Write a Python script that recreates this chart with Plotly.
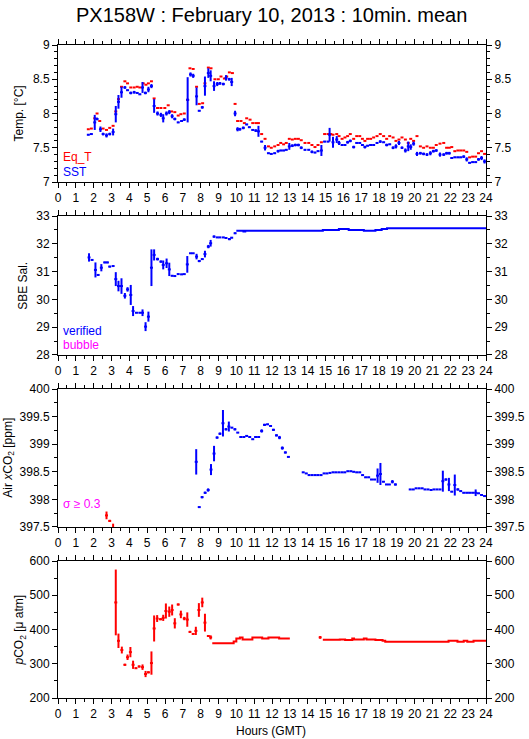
import plotly.graph_objects as go

# ---------------- data (hours GMT, 10-min means) ----------------
eqt_t = [1.70, 1.87, 2.06, 2.19, 2.34, 2.53, 2.72, 2.90, 3.09, 3.24,
         3.39, 3.56, 3.75, 3.90, 4.08, 4.27, 4.44, 4.59, 4.78, 4.93,
         5.07, 5.24, 5.39, 5.58, 5.77, 5.99, 6.18, 6.37, 6.55, 6.74,
         6.89, 7.08, 7.27, 7.40, 7.58, 7.77, 7.92, 8.11, 8.24, 8.43,
         8.58, 8.80, 8.99, 9.14, 9.33, 9.46, 9.61, 9.78, 9.93, 10.07,
         10.26, 10.45, 10.58, 10.77, 10.92, 11.10, 11.24, 11.42, 11.61, 11.80,
         11.96, 12.15, 12.34, 12.49, 12.65, 12.80, 12.97, 13.14, 13.31, 13.48,
         13.64, 13.85, 14.06, 14.24, 14.41, 14.58, 14.77, 14.95, 15.14, 15.30,
         15.42, 15.63, 15.76, 15.93, 16.09, 16.24, 16.39, 16.58, 16.75, 16.92,
         17.07, 17.21, 17.36, 17.53, 17.70, 17.89, 18.07, 18.26, 18.43, 18.60,
         18.79, 18.95, 19.12, 19.29, 19.48, 19.64, 19.78, 19.94, 20.13, 20.32,
         20.50, 20.69, 20.88, 21.05, 21.21, 21.42, 21.63, 21.79, 21.94, 22.08,
         22.25, 22.42, 22.58, 22.75, 22.92, 23.08, 23.25, 23.42, 23.58, 23.75, 23.92]
eqt_v = [7.77, 7.78, 7.93, 8.00, 7.89, 7.78, 7.76, 7.79, 7.82, 8.03,
         8.21, 8.39, 8.47, 8.44, 8.38, 8.38, 8.39, 8.38, 8.44, 8.42,
         8.44, 8.47, 8.22, 8.08, 8.08, 8.08, 8.12, 8.03, 8.02, 7.97,
         7.99, 8.00, 8.20, 8.66, 8.65, 8.39, 8.14, 8.15, 8.44, 8.67,
         8.66, 8.50, 8.50, 8.54, 8.51, 8.54, 8.60, 8.59, 8.14, 7.89,
         7.89, 7.86, 7.93, 7.91, 7.86, 7.86, 7.86, 7.70, 7.63, 7.52,
         7.50, 7.52, 7.54, 7.57, 7.55, 7.57, 7.63, 7.62, 7.63, 7.63,
         7.61, 7.57, 7.57, 7.54, 7.51, 7.54, 7.58, 7.70, 7.70, 7.70,
         7.69, 7.70, 7.67, 7.63, 7.65, 7.67, 7.70, 7.63, 7.67, 7.67,
         7.63, 7.60, 7.63, 7.63, 7.65, 7.67, 7.70, 7.67, 7.63, 7.67,
         7.65, 7.60, 7.62, 7.65, 7.62, 7.57, 7.63, 7.60, 7.67, 7.52,
         7.50, 7.52, 7.50, 7.50, 7.54, 7.56, 7.57, 7.50, 7.50, 7.51,
         7.45, 7.46, 7.46, 7.46, 7.44, 7.36, 7.37, 7.37, 7.42, 7.45, 7.41]

sst_t = [1.70, 1.87, 2.06, 2.19, 2.38, 2.53, 2.72, 2.90, 3.09, 3.24,
         3.39, 3.56, 3.75, 3.90, 4.08, 4.27, 4.44, 4.59, 4.74, 4.90,
         5.07, 5.24, 5.39, 5.58, 5.77, 5.90, 6.08, 6.24, 6.40, 6.55,
         6.74, 6.93, 7.08, 7.27, 7.43, 7.58, 7.77, 7.92, 8.09, 8.24,
         8.43, 8.56, 8.75, 8.93, 9.08, 9.27, 9.42, 9.60, 9.74, 9.93,
         10.07, 10.20, 10.39, 10.58, 10.73, 10.92, 11.09, 11.24, 11.42, 11.61, 11.80,
         11.96, 12.15, 12.34, 12.49, 12.65, 12.80, 12.97, 13.14, 13.31, 13.48,
         13.64, 13.85, 14.06, 14.24, 14.41, 14.58, 14.77, 14.95, 15.14, 15.23,
         15.42, 15.63, 15.76, 15.93, 16.09, 16.24, 16.39, 16.58, 16.75, 16.92,
         17.07, 17.21, 17.36, 17.53, 17.70, 17.89, 18.07, 18.26, 18.43, 18.60,
         18.79, 18.95, 19.12, 19.29, 19.48, 19.64, 19.78, 19.94, 20.13, 20.32,
         20.50, 20.69, 20.88, 21.05, 21.21, 21.42, 21.63, 21.79, 21.94, 22.08,
         22.25, 22.42, 22.58, 22.75, 22.92, 23.08, 23.25, 23.42, 23.58, 23.75, 23.92]
sst_v = [7.69, 7.70, 7.87, 7.92, 7.77, 7.70, 7.68, 7.70, 7.73, 7.99,
         8.17, 8.31, 8.38, 8.34, 8.30, 8.31, 8.30, 8.28, 8.38, 8.30,
         8.35, 8.40, 8.11, 8.00, 7.98, 7.93, 8.00, 8.02, 7.96, 7.92,
         7.87, 7.89, 7.91, 8.20, 8.57, 8.55, 8.25, 8.04, 8.09, 8.40,
         8.59, 8.55, 8.40, 8.43, 8.44, 8.43, 8.52, 8.50, 8.46, 8.00,
         7.77, 7.77, 7.79, 7.84, 7.80, 7.76, 7.75, 7.74, 7.59, 7.50, 7.42,
         7.41, 7.42, 7.45, 7.46, 7.46, 7.47, 7.52, 7.53, 7.54, 7.54,
         7.50, 7.47, 7.47, 7.44, 7.43, 7.45, 7.46, 7.59, 7.59, 7.69,
         7.58, 7.62, 7.57, 7.54, 7.54, 7.58, 7.60, 7.51, 7.57, 7.57,
         7.54, 7.51, 7.53, 7.54, 7.54, 7.57, 7.59, 7.58, 7.54, 7.55,
         7.50, 7.52, 7.57, 7.50, 7.46, 7.52, 7.51, 7.56, 7.41, 7.42,
         7.41, 7.40, 7.42, 7.45, 7.46, 7.40, 7.40, 7.42, 7.42, 7.35,
         7.36, 7.36, 7.36, 7.37, 7.33, 7.28, 7.29, 7.29, 7.33, 7.35, 7.30]
sst_sd = [0.01, 0.01, 0.11, 0.02, 0.04, 0.02, 0.03, 0.02, 0.05, 0.12,
          0.10, 0.08, 0.02, 0.01, 0.02, 0.02, 0.01, 0.01, 0.08, 0.02,
          0.04, 0.03, 0.10, 0.03, 0.03, 0.06, 0.03, 0.03, 0.03, 0.02,
          0.01, 0.01, 0.02, 0.33, 0.03, 0.03, 0.13, 0.01, 0.02, 0.14,
          0.07, 0.08, 0.07, 0.03, 0.02, 0.02, 0.04, 0.02, 0.06, 0.04,
          0.03, 0.02, 0.02, 0.01, 0.01, 0.01, 0.02, 0.08, 0.01, 0.04, 0.01,
          0.01, 0.01, 0.02, 0.01, 0.01, 0.01, 0.05, 0.02, 0.02, 0.02,
          0.02, 0.01, 0.01, 0.02, 0.01, 0.01, 0.08, 0.01, 0.01, 0.10,
          0.08, 0.05, 0.03, 0.01, 0.01, 0.02, 0.02, 0.02, 0.01, 0.01,
          0.01, 0.02, 0.01, 0.01, 0.01, 0.01, 0.02, 0.01, 0.02, 0.01,
          0.02, 0.03, 0.03, 0.02, 0.03, 0.07, 0.04, 0.03, 0.03, 0.02,
          0.02, 0.02, 0.03, 0.02, 0.02, 0.03, 0.02, 0.02, 0.02, 0.01,
          0.01, 0.01, 0.01, 0.02, 0.03, 0.01, 0.01, 0.01, 0.02, 0.03, 0.03]

sal_t = [1.74, 1.91, 2.10, 2.25, 2.43, 2.62, 2.77, 2.90, 3.09, 3.24,
         3.39, 3.56, 3.75, 3.90, 4.08, 4.21, 4.40, 4.59, 4.74, 4.91,
         5.07, 5.24, 5.39, 5.58, 5.77, 5.90, 6.09, 6.24, 6.40, 6.55,
         6.74, 6.93, 7.08, 7.25, 7.43, 7.58, 7.77, 7.92, 8.09, 8.24,
         8.43, 8.56, 8.75, 8.93, 9.08, 9.27, 9.42, 9.61, 9.74, 9.93]
sal_v = [31.51, 31.42, 31.06, 30.88, 31.14, 31.33, 31.33, 31.18, 31.20, 30.73,
         30.48, 30.48, 30.13, 30.36, 30.16, 29.58, 29.52, 29.52, 29.52, 29.02,
         29.38, 31.14, 31.60, 31.45, 31.36, 31.24, 31.30, 31.08, 30.85, 30.84,
         30.91, 30.90, 30.91, 31.26, 31.66, 31.66, 31.54, 31.38, 31.45, 31.63,
         31.90, 32.02, 32.26, 32.23, 32.23, 32.23, 32.21, 32.17, 32.22, 32.38]
sal_sd = [0.15, 0.03, 0.27, 0.03, 0.13, 0.03, 0.03, 0.03, 0.02, 0.25,
          0.19, 0.28, 0.10, 0.08, 0.36, 0.18, 0.02, 0.02, 0.12, 0.16,
          0.18, 0.66, 0.20, 0.05, 0.04, 0.16, 0.17, 0.24, 0.02, 0.02,
          0.02, 0.02, 0.01, 0.30, 0.01, 0.01, 0.10, 0.04, 0.02, 0.12,
          0.06, 0.12, 0.04, 0.02, 0.02, 0.02, 0.02, 0.04, 0.02, 0.03]
sal_step_t = [10.0, 10.4, 10.5, 14.85, 15.75, 16.3, 17.15, 17.8, 18.15, 18.45, 24.0]
sal_step_v = [32.47, 32.44, 32.47, 32.50, 32.53, 32.50, 32.47, 32.50, 32.53, 32.56, 32.56]

xco2_bad_t = [2.72, 2.90, 3.09]
xco2_bad_v = [397.71, 397.61, 397.47]
xco2_bad_sd = [0.07, 0.02, 0.09]

xco2_t = [7.75, 7.92, 8.08, 8.25, 8.42, 8.58, 8.75, 8.92, 9.08, 9.25,
          9.42, 9.58, 9.75, 9.92, 10.08, 10.25, 10.42, 10.58, 10.75, 10.92,
          11.08, 11.25, 11.42, 11.58, 11.75, 11.92, 12.08, 12.25, 12.42, 12.58,
          12.75, 12.92,
          13.75, 13.92, 14.08, 14.25, 14.42, 14.58, 14.75, 14.92, 15.08, 15.25,
          15.42, 15.58, 15.75, 15.92, 16.08, 16.25, 16.42, 16.58, 16.75, 16.92,
          17.08, 17.25, 17.42, 17.58, 17.75, 17.92, 18.08, 18.25, 18.42, 18.58,
          18.75, 18.92,
          19.75, 19.92, 20.08, 20.25, 20.42, 20.58, 20.75, 20.92, 21.08, 21.25,
          21.42, 21.58, 21.75, 21.92, 22.08, 22.25, 22.42, 22.58, 22.75, 22.92,
          23.08, 23.25, 23.42, 23.58, 23.75, 23.92]
xco2_v = [398.68, 397.86, 398.04, 398.12, 398.17, 398.54, 398.83, 399.12, 399.19, 399.38,
          399.27, 399.32, 399.30, 399.27, 399.21, 399.13, 399.13, 399.15, 399.13, 399.09,
          399.13, 399.13, 399.24, 399.35, 399.36, 399.33, 399.26, 399.16, 399.12, 398.93,
          398.85, 398.77,
          398.49, 398.47, 398.44, 398.44, 398.44, 398.44, 398.44, 398.47, 398.47, 398.48,
          398.49, 398.49, 398.49, 398.49, 398.49, 398.51, 398.51, 398.50, 398.49, 398.49,
          398.44, 398.40, 398.40, 398.36, 398.36, 398.43, 398.46, 398.32, 398.27, 398.27,
          398.32, 398.27,
          398.18, 398.18, 398.20, 398.20, 398.20, 398.18, 398.18, 398.17, 398.18, 398.18,
          398.18, 398.33, 398.36, 398.27, 398.14, 398.26, 398.18, 398.15, 398.12, 398.12,
          398.12, 398.12, 398.12, 398.11, 398.08, 398.06]
xco2_sd = [0.23, 0.01, 0.02, 0.02, 0.03, 0.10, 0.14, 0.02, 0.02, 0.24,
           0.02, 0.09, 0.01, 0.02, 0.01, 0.01, 0.01, 0.01, 0.01, 0.01,
           0.01, 0.01, 0.03, 0.02, 0.01, 0.01, 0.02, 0.02, 0.03, 0.03,
           0.02, 0.01,
           0.01, 0.01, 0.01, 0.01, 0.01, 0.01, 0.01, 0.01, 0.01, 0.01,
           0.01, 0.01, 0.01, 0.01, 0.01, 0.01, 0.01, 0.01, 0.01, 0.01,
           0.01, 0.01, 0.01, 0.01, 0.01, 0.13, 0.20, 0.01, 0.01, 0.01,
           0.03, 0.02,
           0.01, 0.01, 0.01, 0.01, 0.01, 0.01, 0.01, 0.01, 0.01, 0.01,
           0.01, 0.19, 0.02, 0.12, 0.01, 0.19, 0.02, 0.01, 0.01, 0.01,
           0.01, 0.01, 0.06, 0.01, 0.01, 0.01]

pco2_t = [3.24, 3.39, 3.58, 3.75, 3.90, 4.06, 4.21, 4.37, 4.55, 4.74,
          4.91, 5.07, 5.24, 5.39, 5.56, 5.75, 5.90, 6.05, 6.24, 6.40,
          6.55, 6.74, 6.89, 7.08, 7.25, 7.40, 7.58, 7.73, 7.90, 8.09,
          8.24, 8.43, 8.56, 14.70]
pco2_v = [479, 367, 340, 297, 319, 334, 297, 287, 292, 290,
          270, 275, 302, 403, 432, 430, 434, 454, 452, 457,
          418, 473, 444, 432, 429, 393, 387, 396, 457, 479,
          420, 381, 377, 377]
pco2_sd = [96, 21, 10, 3, 8, 15, 12, 2, 3, 8,
           9, 3, 34, 38, 10, 3, 9, 22, 15, 16,
           15, 3, 11, 5, 21, 3, 2, 12, 20, 14,
           26, 3, 6, 4]
pco2_step_t = [8.65, 9.85, 10.0, 10.2, 10.35, 10.9, 11.45, 11.8, 12.4, 13.0, None,
               14.85, 15.8, 16.1, 16.5, 16.6, 17.15, 17.3, 17.8, 18.2, 18.35,
               21.9, 22.4, 22.75, 22.95, 23.3, 24.0]
pco2_step_v = [360, 365, 374, 377, 371, 377, 374, 377, 374, 374, None,
               370, 371, 369, 374, 371, 374, 371, 369, 367, 364,
               367, 364, 367, 364, 367, 367]

hour_ticks = list(range(0, 25))

# ---------------- styling ----------------
RED, BLUE, MAG = "#ff0000", "#0000ff", "#ff00ff"
FONT = "Liberation Sans, Arial, Helvetica, sans-serif"
HALF_BIN = 1.0 / 12.0  # half of a 10-minute averaging interval, in hours

fig = go.Figure()


def axnames(n):
    return ("x" if n == 1 else f"x{n}"), ("y" if n == 1 else f"y{n}")


def bars(t, v, sd, color, n, vertical=True):
    xa, ya = axnames(n)
    kw = dict(x=t, y=v, mode="markers", marker=dict(size=2, color=color, opacity=0),
              error_x=dict(type="constant", value=HALF_BIN, width=0, thickness=2, color=color),
              xaxis=xa, yaxis=ya, showlegend=False, hoverinfo="skip")
    if vertical:
        kw["error_y"] = dict(type="data", array=sd, width=0, thickness=2, color=color)
    fig.add_trace(go.Scatter(**kw))


def steps(t, v, color, n):
    xa, ya = axnames(n)
    fig.add_trace(go.Scatter(x=t, y=v, mode="lines", line=dict(color=color, width=2, shape="hv"),
                             xaxis=xa, yaxis=ya, showlegend=False, hoverinfo="skip",
                             connectgaps=False))


bars(eqt_t, eqt_v, None, RED, 1, vertical=False)
bars(sst_t, sst_v, sst_sd, BLUE, 1)
bars(sal_t, sal_v, sal_sd, BLUE, 2)
steps(sal_step_t, sal_step_v, BLUE, 2)
bars(xco2_bad_t, xco2_bad_v, xco2_bad_sd, RED, 3)
bars(xco2_t, xco2_v, xco2_sd, BLUE, 3)
bars(pco2_t, pco2_v, pco2_sd, RED, 4)
steps(pco2_step_t, pco2_step_v, RED, 4)

# empty traces so the right-hand axes exist
for k in range(4):
    xa, _ = axnames(k + 1)
    fig.add_trace(go.Scatter(x=[None], y=[None], xaxis=xa, yaxis=f"y{k+5}",
                             showlegend=False, hoverinfo="skip"))

domains = [[0.7902, 1.0], [0.5253, 0.7381], [0.2619, 0.4732], [0.0, 0.2098]]
yranges = [[7, 9], [28, 33], [397.5, 400], [200, 600]]
yminor = [0.1, 0.5, 0.25, 50]
ytickvals = [[7, 7.5, 8, 8.5, 9], [28, 29, 30, 31, 32, 33],
             [397.5, 398, 398.5, 399, 399.5, 400], [200, 300, 400, 500, 600]]
ytitles = ["Temp. [°C]", "SBE Sal.", "Air <i>x</i>CO<sub>2</sub> [ppm]",
           "<i>p</i>CO<sub>2</sub> [μ atm]"]

tickfont = dict(family=FONT, size=12, color="black")
layout = dict(
    width=529, height=739, paper_bgcolor="white", plot_bgcolor="white",
    margin=dict(l=58, r=43, t=45, b=41, autoexpand=False), showlegend=False,
    font=dict(family=FONT, color="black"),
)
for k in range(4):
    xs = "xaxis" if k == 0 else f"xaxis{k+1}"
    ys = "yaxis" if k == 0 else f"yaxis{k+1}"
    xname, yname = axnames(k + 1)
    layout[xs] = dict(domain=[0, 1], anchor=yname, range=[0, 24], tickvals=hour_ticks,
                      ticks="outside", ticklen=5, tickwidth=1, tickcolor="black",
                      minor=dict(dtick=0.5, ticks="outside", ticklen=3, tickcolor="black", tickwidth=1),
                      showline=True, linecolor="black", linewidth=1, mirror="ticks",
                      showgrid=False, zeroline=False, tickfont=tickfont, fixedrange=True,
                      automargin=False)
    layout[ys] = dict(domain=domains[k], anchor=xname,
                      range=yranges[k], tickvals=ytickvals[k],
                      ticks="outside", ticklen=5, tickwidth=1, tickcolor="black",
                      minor=dict(dtick=yminor[k], ticks="outside", ticklen=3, tickcolor="black", tickwidth=1),
                      showline=True, linecolor="black", linewidth=1, mirror=True,
                      showgrid=False, zeroline=False, tickfont=tickfont, fixedrange=True,
                      automargin=False)
    layout[f"yaxis{k+5}"] = dict(overlaying=yname, side="right", anchor=xname,
                                 range=yranges[k], tickvals=ytickvals[k],
                                 ticks="outside", ticklen=5, tickwidth=1, tickcolor="black",
                                 minor=dict(dtick=yminor[k], ticks="outside", ticklen=3,
                                            tickcolor="black", tickwidth=1),
                                 showline=True, linecolor="black", linewidth=1,
                                 showgrid=False, zeroline=False, tickfont=tickfont,
                                 fixedrange=True, automargin=False)

fig.update_layout(**layout)

ann = []
ann.append(dict(text="PX158W : February 10, 2013 : 10min. mean", xref="paper", yref="paper",
                x=0.4977, y=1.0459, xanchor="center", yanchor="middle", showarrow=False,
                font=dict(family=FONT, size=20, color="black")))
ycenters = [(d[0] + d[1]) / 2 for d in domains]
yt_x = [-0.0888, -0.081, -0.115, -0.0888]
for k in range(4):
    ann.append(dict(text=ytitles[k], xref="paper", yref="paper", x=yt_x[k], y=ycenters[k],
                    xanchor="center", yanchor="middle", textangle=-90, showarrow=False,
                    font=dict(family=FONT, size=12, color="black")))
ann.append(dict(text="Hours (GMT)", xref="paper", yref="paper", x=0.4977, y=-0.0505,
                xanchor="center", yanchor="middle", showarrow=False,
                font=dict(family=FONT, size=12, color="black")))
labels = [("Eq_T", RED, 0.828), ("SST", BLUE, 0.805), ("verified", BLUE, 0.5625),
          ("bubble", MAG, 0.540), ("σ ≥ 0.3", MAG, 0.297)]
for txt, col, yy in labels:
    ann.append(dict(text=txt, xref="paper", yref="paper", x=0.008, y=yy,
                    xanchor="left", yanchor="middle", showarrow=False,
                    font=dict(family=FONT, size=12, color=col)))
fig.update_layout(annotations=ann)

fig.write_html("out.html", config={"displayModeBar": False, "staticPlot": True},
               post_script="document.body.style.margin='0';")
